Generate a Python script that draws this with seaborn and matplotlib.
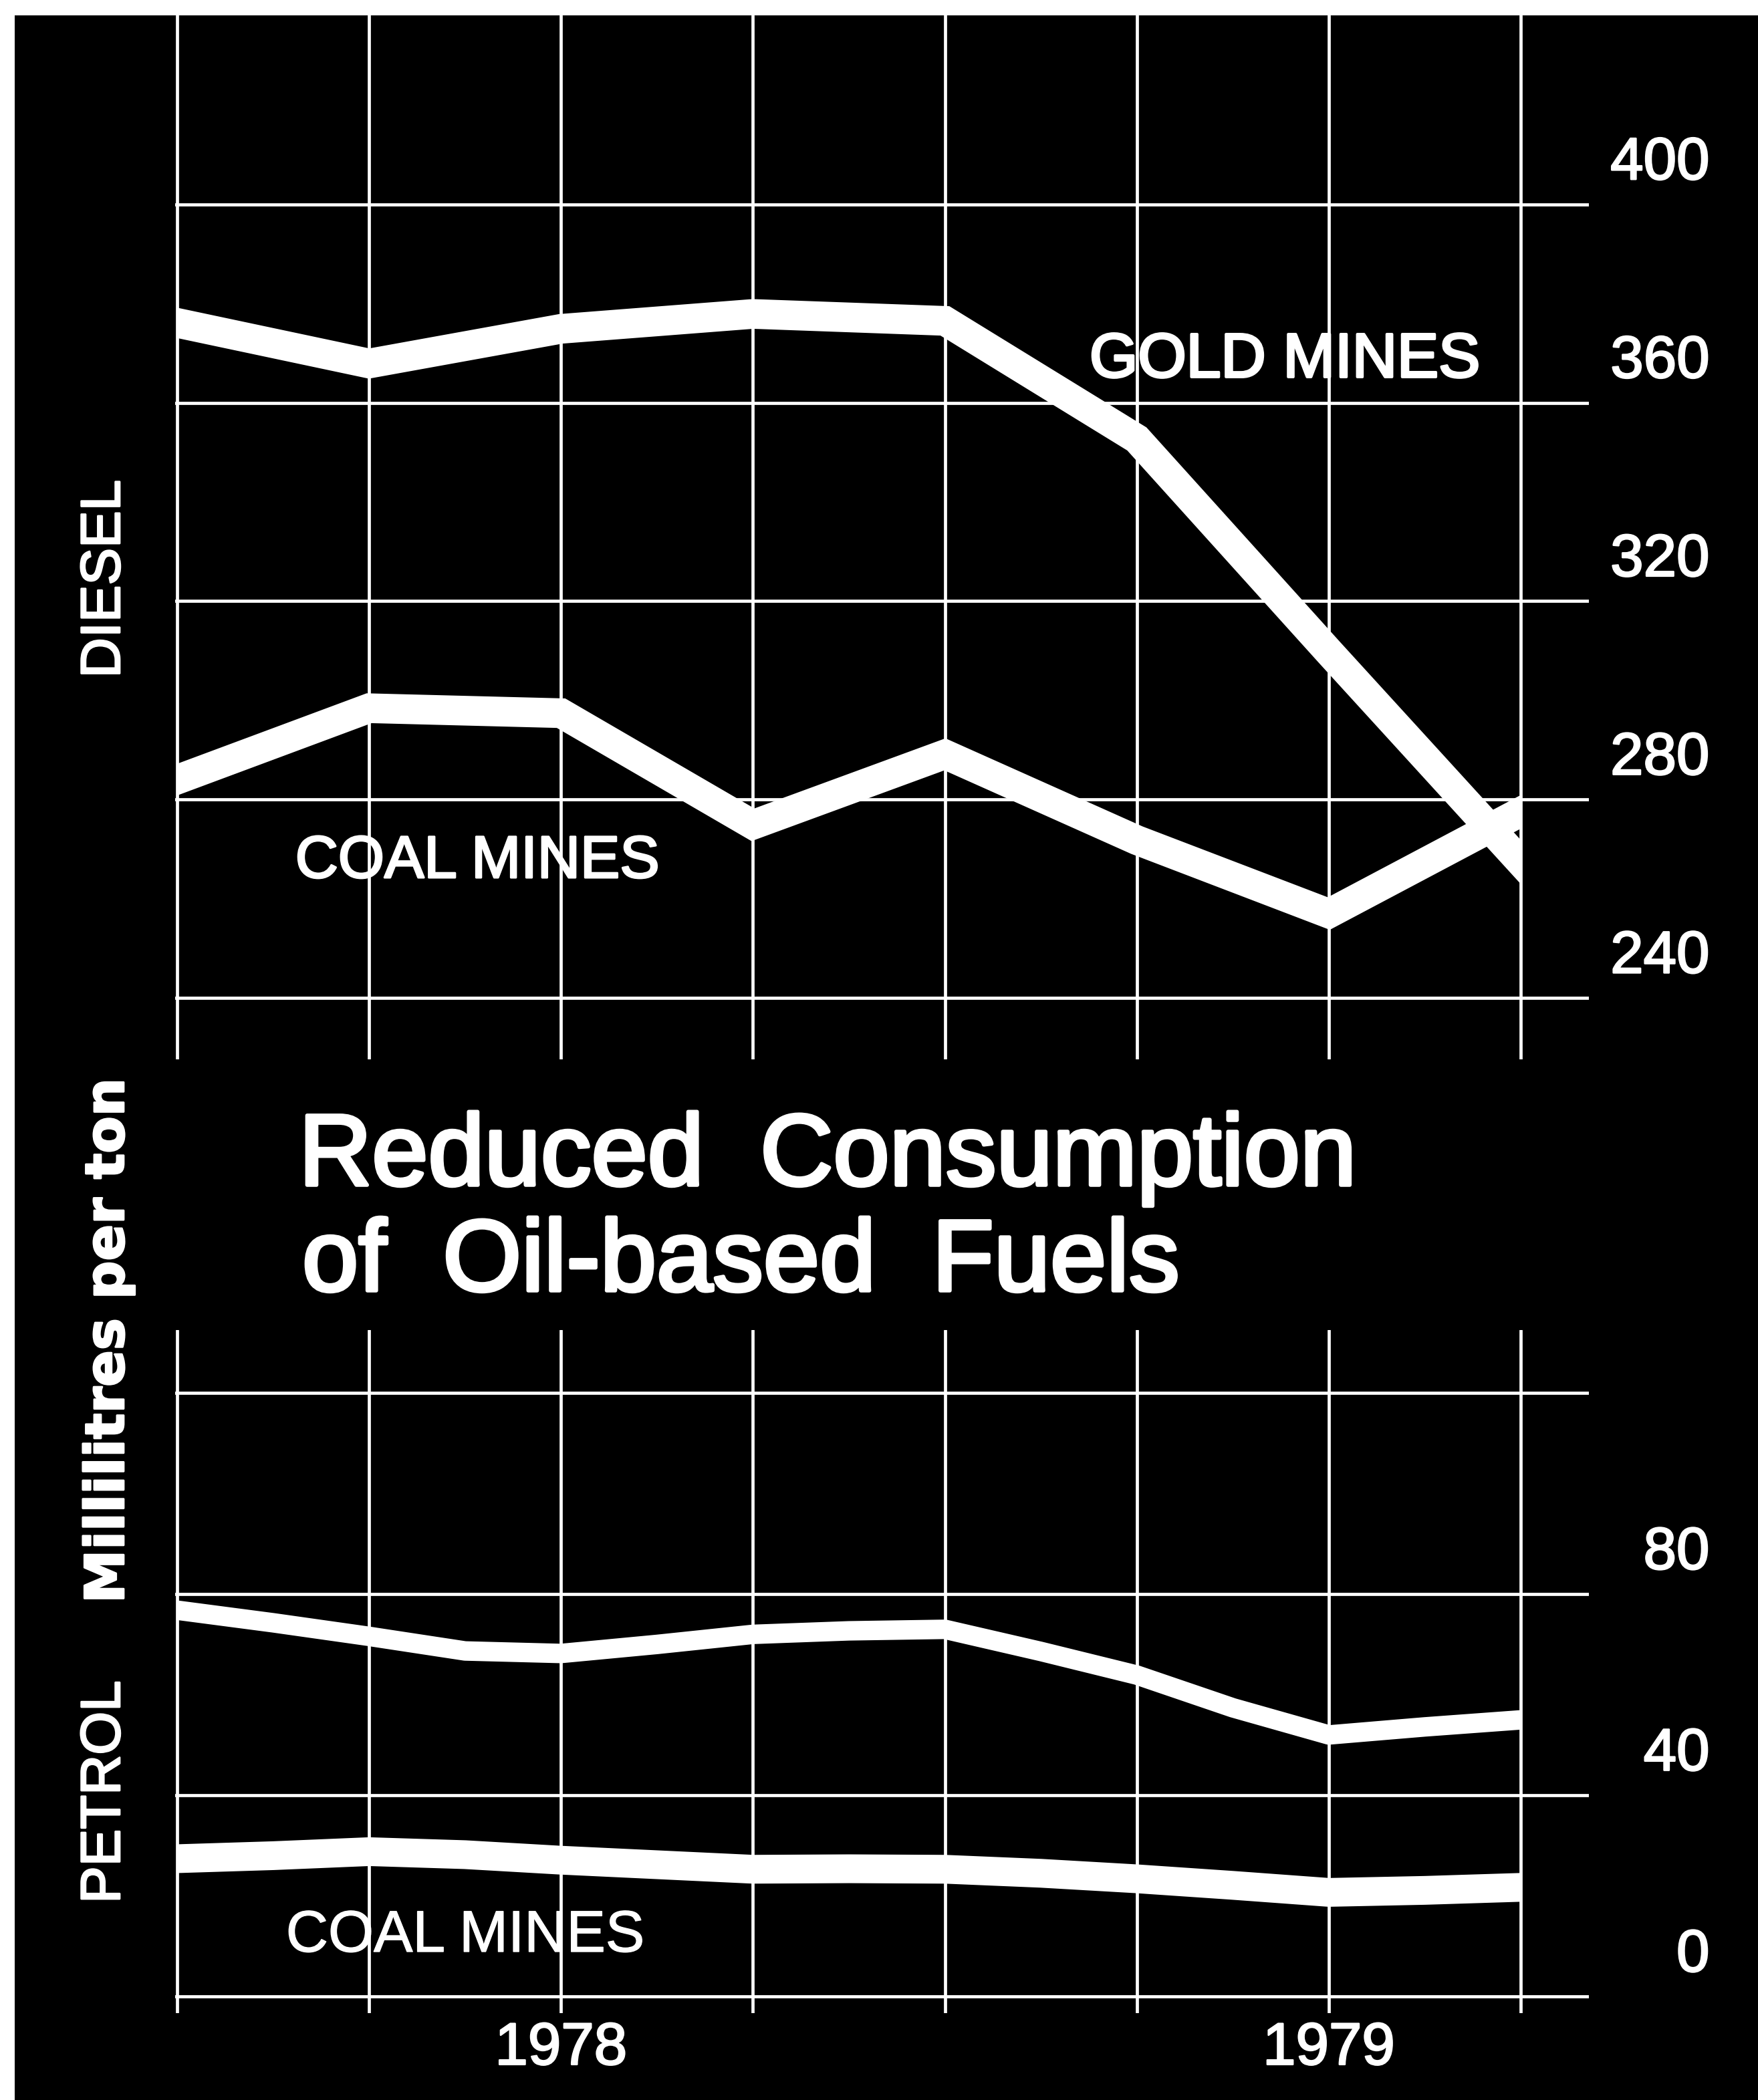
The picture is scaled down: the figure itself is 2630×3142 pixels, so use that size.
import matplotlib
matplotlib.use("Agg")
import matplotlib.pyplot as plt
from matplotlib import font_manager
from matplotlib import patheffects
from matplotlib.patches import Rectangle
from matplotlib.transforms import ScaledTranslation
import pandas as pd
import seaborn as sns

# ---------------------------------------------------------------- data
quarters = [0, 1, 2, 3, 4, 5, 6, 7]
year_ticks = [2, 6]
year_labels = ["1978", "1979"]

# Diesel, millilitres per ton
diesel_gold = [376.1, 367.9, 374.9, 377.9, 376.5, 352.7, 309.8, 267.4]
diesel_coal = [284.0, 298.4, 297.4, 274.9, 289.1, 271.8, 257.0, 277.5]

# Petrol, millilitres per ton (read every half quarter)
petrol_x = [0, 0.5, 1, 1.5, 2, 2.5, 3, 3.5, 4, 4.5, 5, 5.5, 6, 6.5, 7]
petrol_gold = [76.8, 74.3, 71.6, 68.7, 68.2, 70.0, 72.0, 72.7, 73.0,
               68.6, 63.9, 57.4, 52.0, 53.6, 55.0]
petrol_coal = [27.4, 28.0, 28.8, 28.2, 27.1, 26.2, 25.3, 25.4, 25.3,
               24.5, 23.4, 22.1, 20.7, 21.1, 21.7]

diesel_ticks = [240, 280, 320, 360, 400]
diesel_tick_labels = ["240", "280", "320", "360", "400"]
petrol_ticks = [0, 40, 80, 120]
petrol_tick_labels = ["0", "40", "80", ""]

series_names = ["GOLD MINES", "COAL MINES"]

# ---------------------------------------------------------------- style
W, H, DPI = 2630, 3142, 100
sns.set_style("dark", {"axes.facecolor": "black", "figure.facecolor": "white",
                       "grid.color": "white", "axes.edgecolor": "black",
                       "text.color": "white", "xtick.color": "white",
                       "ytick.color": "white"})
plt.rcParams["font.family"] = ["Liberation Sans", "DejaVu Sans"]

installed = {f.name for f in font_manager.fontManager.ttflist}
narrow = "Liberation Sans Narrow" in installed
title_family = ["Liberation Sans Narrow", "Liberation Sans"] if narrow else ["Liberation Sans"]
title_size = 126 if narrow else 109


def heavy(lw):
    # thicken glyph strokes a little, as in the printed lettering
    return [patheffects.withStroke(linewidth=lw, foreground="white")]


fig = plt.figure(figsize=(W / DPI, H / DPI), dpi=DPI)
# black sheet with a thin white margin at the top and left
fig.add_artist(Rectangle((22 / W, 0), 1, 1 - 23 / H, transform=fig.transFigure,
                         facecolor="black", edgecolor="none", zorder=-10))


def box(left, top, right, bottom):
    return [left / W, 1 - bottom / H, (right - left) / W, (bottom - top) / H]


x_lo, x_hi = -0.0104, 7.355
ax_top = fig.add_axes(box(262, 23, 2377, 1585))
ax_bot = fig.add_axes(box(262, 1990, 2377, 3012))

diesel = pd.DataFrame({
    "quarter": quarters * 2,
    "ml_per_ton": diesel_gold + diesel_coal,
    "mine": [series_names[0]] * len(quarters) + [series_names[1]] * len(quarters),
})
petrol = pd.DataFrame({
    "quarter": petrol_x * 2,
    "ml_per_ton": petrol_gold + petrol_coal,
    "mine": [series_names[0]] * len(petrol_x) + [series_names[1]] * len(petrol_x),
})
white = {name: "white" for name in series_names}

sns.lineplot(data=diesel, x="quarter", y="ml_per_ton", hue="mine",
             palette=white, linewidth=32, legend=False, errorbar=None,
             solid_capstyle="projecting", solid_joinstyle="miter", ax=ax_top)
sns.lineplot(data=petrol, x="quarter", y="ml_per_ton", hue="mine",
             palette=white, size="mine",
             sizes={series_names[0]: 21, series_names[1]: 31},
             legend=False, errorbar=None,
             solid_capstyle="projecting", solid_joinstyle="round", ax=ax_bot)

for ax, ylim, ticks, labels in ((ax_top, (227.6, 438.1), diesel_ticks, diesel_tick_labels),
                               (ax_bot, (-3.3, 132.5), petrol_ticks, petrol_tick_labels)):
    ax.set_facecolor("black")
    ax.set_xlim(x_lo, x_hi)
    ax.set_xticks(quarters)
    ax.set_yticks(ticks)
    ax.set_yticklabels(labels)
    ax.set_ylim(*ylim)
    ax.set_xlabel("")
    ax.set_ylabel("")
    ax.grid(True, color="white", linewidth=3.4)
    for s in ax.spines.values():
        s.set_visible(False)
    ax.yaxis.tick_right()
    ax.tick_params(axis="y", length=0, labelsize=64, pad=130, labelcolor="white")
    ax.tick_params(axis="x", length=0, labelsize=64, pad=8.5, labelcolor="white")
    # data lines end squarely on the first and last quarter
    clip = Rectangle((quarters[0], ylim[0]), quarters[-1] - quarters[0],
                     ylim[1] - ylim[0], transform=ax.transData)
    for ln in ax.lines:
        ln.set_clip_path(clip)
        ln.set_zorder(3)

ax_top.set_xticklabels([])
ax_bot.set_xticklabels([year_labels[year_ticks.index(q)] if q in year_ticks else ""
                        for q in quarters])

# scale numbers sit just above their grid line, right-aligned
lift = ScaledTranslation(0, 70 / DPI, fig.dpi_scale_trans)
for ax in (ax_top, ax_bot):
    for lbl in ax.get_yticklabels():
        lbl.set_horizontalalignment("right")
        lbl.set_transform(lbl.get_transform() + lift)
        lbl.set_path_effects(heavy(1.8))
    for lbl in ax.get_xticklabels():
        lbl.set_path_effects(heavy(1.8))


def fx(px):
    return px / W


def fy(py):
    return 1 - py / H


# series names
fig.text(fx(1922), fy(564), "GOLD MINES", fontsize=67, color="white",
         ha="center", va="baseline", path_effects=heavy(2.8))
fig.text(fx(714), fy(1313), "COAL MINES", fontsize=64, color="white",
         ha="center", va="baseline", path_effects=heavy(2.2))
fig.text(fx(696), fy(2920), "COAL MINES", fontsize=63, color="white",
         ha="center", va="baseline", path_effects=heavy(1.0))

# panel names and unit, running up the left side
fig.text(fx(179), fy(866), "DIESEL", fontsize=60, color="white", rotation=90,
         rotation_mode="anchor", ha="center", va="baseline", path_effects=heavy(2))
fig.text(fx(179), fy(2681), "PETROL", fontsize=60, color="white", rotation=90,
         rotation_mode="anchor", ha="center", va="baseline", path_effects=heavy(2))
fig.text(fx(185), fy(2006), "Millilitres per ton", fontsize=58, color="white",
         rotation=90, rotation_mode="anchor", ha="center", va="baseline",
         family=["DejaVu Sans"], fontweight="bold", path_effects=heavy(2))

# title between the two panels
fig.text(fx(447), fy(1773), "Reduced  Consumption", fontsize=title_size,
         color="white", family=title_family, ha="left", va="baseline",
         path_effects=heavy(4))
fig.text(fx(452), fy(1931), "of  Oil-based  Fuels", fontsize=title_size,
         color="white", family=title_family, ha="left", va="baseline",
         path_effects=heavy(4))

fig.savefig("out.png", dpi=DPI, facecolor=fig.get_facecolor())
